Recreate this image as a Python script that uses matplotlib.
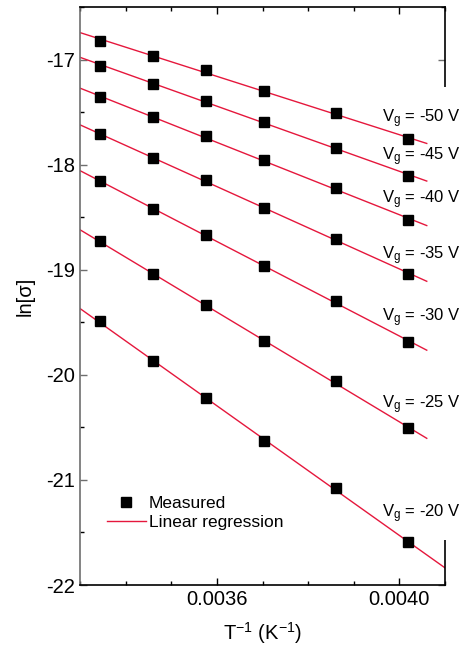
import numpy as np
import matplotlib
matplotlib.use('Agg')
import matplotlib.pyplot as plt
from matplotlib.ticker import MultipleLocator, FormatStrFormatter
from matplotlib.patches import Rectangle

plt.rcParams['font.family'] = ['Liberation Sans', 'DejaVu Sans']
plt.rcParams['mathtext.fontset'] = 'custom'
plt.rcParams['mathtext.rm'] = 'Liberation Sans'
plt.rcParams['mathtext.it'] = 'Liberation Sans:italic'
plt.rcParams['axes.unicode_minus'] = False

# inverse temperature (1/K)
inv_T = [0.003343, 0.003459, 0.003576, 0.003703, 0.003862, 0.004018]

# ln(conductivity) for each gate voltage
gate_V = [-50, -45, -40, -35, -30, -25, -20]
ln_sigma = {
    -50: [-16.82, -16.97, -17.10, -17.30, -17.51, -17.76],
    -45: [-17.06, -17.23, -17.39, -17.59, -17.84, -18.11],
    -40: [-17.36, -17.55, -17.73, -17.96, -18.22, -18.53],
    -35: [-17.71, -17.94, -18.15, -18.41, -18.71, -19.04],
    -30: [-18.16, -18.42, -18.67, -18.96, -19.30, -19.69],
    -25: [-18.73, -19.04, -19.34, -19.68, -20.06, -20.51],
    -20: [-19.49, -19.87, -20.22, -20.63, -21.08, -21.59],
}
# where each label sits (y, data units)
label_y = [-17.60, -17.96, -18.37, -18.90, -19.49, -20.32, -21.36]
# end of the fitted line
fit_end = [0.00406, 0.00406, 0.00406, 0.00406, 0.00406, 0.00406, 0.0042]

fig = plt.figure(figsize=(4.67, 6.49), dpi=100)
ax = fig.add_axes([0.1713, 0.0986, 0.7816, 0.8906])

red = '#e5173c'
for i, v in enumerate(gate_V):
    y = ln_sigma[v]
    k, b = np.polyfit(inv_T, y, 1)
    xf = np.array([0.0033, fit_end[i]])
    ax.plot(xf, k * xf + b, color=red, lw=1.0, zorder=2,
            label='Linear regression' if i == 0 else None)
    ax.plot(inv_T, y, 's', color='black', ms=7.5, zorder=4,
            label='Measured' if i == 0 else None)
    ax.text(0.003962, label_y[i], 'V$_\\mathrm{g}$ = %d V' % v, fontsize=12,
            va='baseline', ha='left', zorder=6, clip_on=False)

ax.set_xlim(0.0033, 0.0041)
ax.set_ylim(-22, -16.5)
ax.xaxis.set_major_locator(MultipleLocator(0.0004))
ax.xaxis.set_minor_locator(MultipleLocator(0.0001))
ax.xaxis.set_major_formatter(FormatStrFormatter('%.4f'))
ax.yaxis.set_major_locator(MultipleLocator(1))
ax.yaxis.set_minor_locator(MultipleLocator(0.5))
ax.tick_params(which='both', direction='in', top=True, right=True, labelsize=14.5)
ax.tick_params(which='major', length=5, width=1)
ax.tick_params(which='minor', length=3, width=1)
ax.tick_params(axis='y', colors='#6e6e6e', labelcolor='black')
ax.spines['left'].set_color('#6e6e6e')
for s in ax.spines.values():
    s.set_linewidth(1.2)

# white strip hiding the right frame behind the labels
ax.add_patch(Rectangle((0.978, 0.078), 0.04, 0.784, transform=ax.transAxes,
                       facecolor='white', edgecolor='none', zorder=5, clip_on=False))

ax.set_xlabel('T$^{\\mathrm{-1}}$ (K$^{\\mathrm{-1}}$)', fontsize=14.5, labelpad=8)
ax.set_ylabel('ln[σ]', fontsize=14.5)
ax.yaxis.set_label_coords(-0.125, 0.5)

h, l = ax.get_legend_handles_labels()
ax.legend([h[1], h[0]], [l[1], l[0]], loc='upper left', bbox_to_anchor=(0.056, 0.167),
          frameon=False, fontsize=12.5, handlelength=2.2, handletextpad=0.2,
          labelspacing=0.25, borderaxespad=0)

fig.savefig('out.png', dpi=100)
